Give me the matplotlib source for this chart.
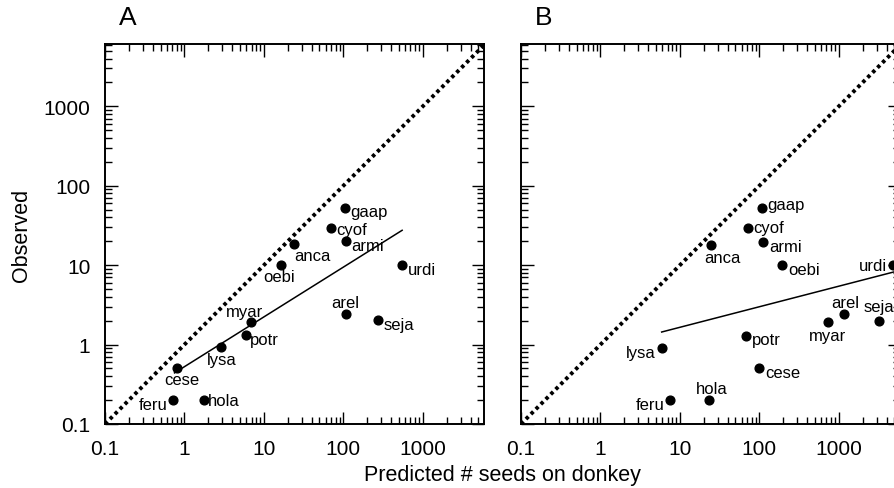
import matplotlib
matplotlib.use("Agg")
import matplotlib.pyplot as plt
import numpy as np
from matplotlib.ticker import FixedLocator, NullFormatter, LogLocator

plt.rcParams['font.family'] = ['Liberation Sans', 'DejaVu Sans']

# species codes
especies = ['gaap', 'cyof', 'armi', 'anca', 'oebi', 'urdi', 'arel',
            'seja', 'myar', 'potr', 'lysa', 'cese', 'feru', 'hola']

# panel A: predicted vs observed
pred_a = [105, 69, 107, 24, 16.2, 550, 107, 270, 6.9, 5.9, 2.85, 0.8, 0.72, 1.76]
obs_a = [53, 29.6, 20, 18.5, 10, 10, 2.45, 2.05, 1.95, 1.32, 0.92, 0.51, 0.2, 0.2]

# panel B: predicted vs observed
pred_b = [108, 72, 112, 25, 195, 4800, 1150, 3200, 730, 68, 5.9, 100, 7.6, 23.5]
obs_b = [53, 29.6, 19.6, 18, 10, 10, 2.4, 2.0, 1.9, 1.3, 0.9, 0.5, 0.2, 0.2]

# fitted lines (endpoints)
recta_a_x = [0.75, 550]
recta_a_y = [0.44, 27.5]
recta_b_x = [5.9, 4900]
recta_b_y = [1.44, 8.2]

ticks = [0.1, 1, 10, 100, 1000]
tick_labels = ['0.1', '1', '10', '100', '1000']

# label offsets (points) and alignment per species
pos_a = {
    'gaap': (4, -3, 'left', 'center'), 'cyof': (4, -1, 'left', 'center'),
    'armi': (4, -3, 'left', 'center'), 'anca': (0, -3, 'left', 'top'),
    'oebi': (-1, -3, 'center', 'top'), 'urdi': (4, -3, 'left', 'center'),
    'arel': (0, 3, 'center', 'bottom'), 'seja': (4, -3, 'left', 'center'),
    'myar': (-5, 2, 'center', 'bottom'), 'potr': (3, -3, 'left', 'center'),
    'lysa': (1, -3, 'center', 'top'), 'cese': (4, -3, 'center', 'top'),
    'feru': (-4, -3, 'right', 'center'), 'hola': (3, 0, 'left', 'center'),
}
pos_b = {
    'gaap': (4, 2, 'left', 'center'), 'cyof': (4, 0, 'left', 'center'),
    'armi': (4, -3, 'left', 'center'), 'anca': (8, -4, 'center', 'top'),
    'oebi': (4, -3, 'left', 'center'), 'urdi': (-4, 0, 'right', 'center'),
    'arel': (1, 3, 'center', 'bottom'), 'seja': (0, 5, 'center', 'bottom'),
    'myar': (0, -4, 'center', 'top'), 'potr': (4, -3, 'left', 'center'),
    'lysa': (-4, -3, 'right', 'center'), 'cese': (4, -3, 'left', 'center'),
    'feru': (-4, -3, 'right', 'center'), 'hola': (2, 3, 'center', 'bottom'),
}

fig = plt.figure(figsize=(8.95, 4.89), dpi=100)
ax_a = fig.add_axes([105 / 895, 64 / 489, 379 / 895, 380 / 489])
ax_b = fig.add_axes([521 / 895, 64 / 489, 379 / 895, 380 / 489])


def panel(ax, px, py, rx, ry, pos, letra, ylabels):
    ax.set_xscale('log')
    ax.set_yscale('log')
    ax.set_xlim(0.1, 5900)
    ax.set_ylim(0.1, 6100)
    ax.plot([0.1, 6000], [0.1, 6000], color='black', lw=2.8,
            linestyle=(0, (0.9, 0.9)), solid_capstyle='butt')
    ax.plot(rx, ry, color='black', lw=1.1)
    ax.plot(px, py, 'o', color='black', ms=6.3, zorder=3)
    for nombre, x, y in zip(especies, px, py):
        dx, dy, ha, va = pos[nombre]
        ax.annotate(nombre, (x, y), xytext=(dx, dy), textcoords='offset points',
                    ha=ha, va=va, fontsize=12)
    for eje in (ax.xaxis, ax.yaxis):
        eje.set_major_locator(FixedLocator(ticks))
        eje.set_minor_locator(LogLocator(base=10, subs=np.arange(2, 10)))
        eje.set_minor_formatter(NullFormatter())
    ax.set_xticklabels(tick_labels)
    if ylabels:
        ax.set_yticklabels(tick_labels)
    else:
        ax.set_yticklabels([])
    ax.tick_params(which='both', direction='in', top=True, right=True,
                   width=1.0, labelsize=15)
    ax.tick_params(which='major', length=9, pad=10.5)
    ax.tick_params(which='minor', length=5)
    for s in ax.spines.values():
        s.set_linewidth(1.4)
    ax.text(0.06, 1.071, letra, transform=ax.transAxes, fontsize=19,
            ha='center', va='center')


panel(ax_a, pred_a, obs_a, recta_a_x, recta_a_y, pos_a, 'A', True)
panel(ax_b, pred_b, obs_b, recta_b_x, recta_b_y, pos_b, 'B', False)

ax_a.set_ylabel('Observed', fontsize=15.5, labelpad=8)
fig.text(502 / 895, 1 - 476 / 489, 'Predicted # seeds on donkey',
         fontsize=15.5, ha='center', va='center')

fig.savefig('out.png', dpi=100)
